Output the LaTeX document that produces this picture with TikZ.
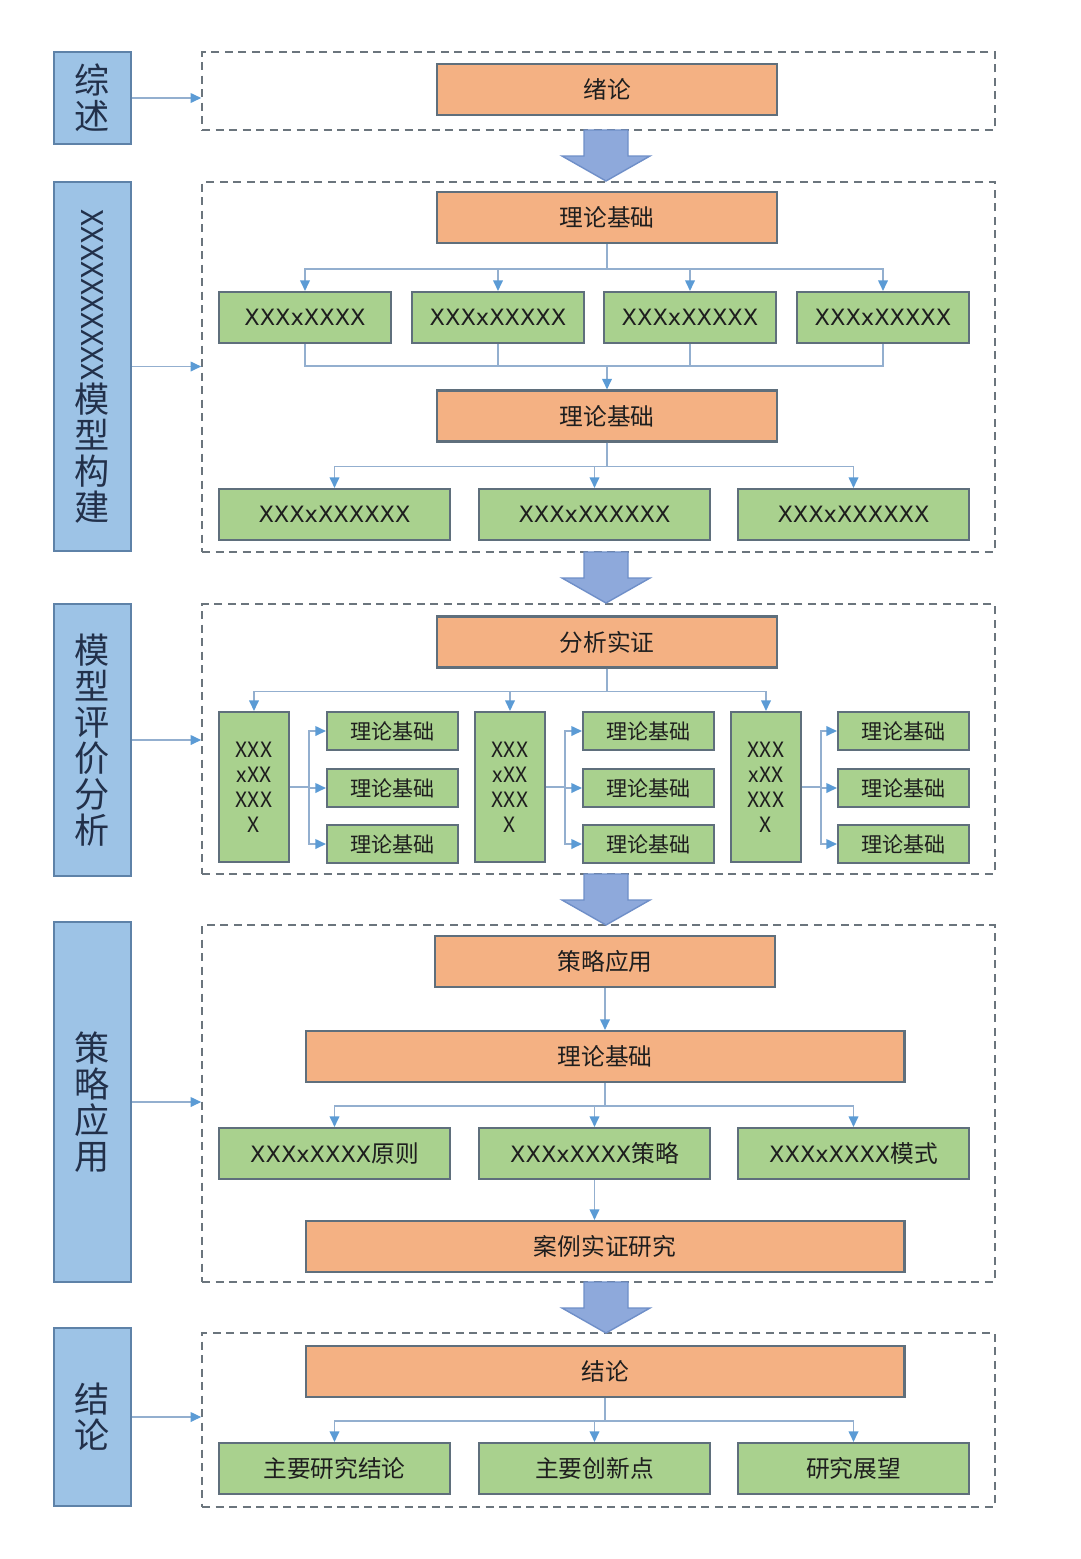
\documentclass[tikz,border=0pt]{standalone}
\usepackage{fontspec}
\usepackage{graphicx}
\setmainfont{Noto Sans CJK SC}
\newfontfamily\latinfont{DejaVu Sans}
\newcommand\xtext[1]{{\latinfont\fontsize{12.8}{16}\selectfont #1}}
\usepackage{tikz}
\usetikzlibrary{arrows.meta,positioning,calc}
\definecolor{sidefill}{HTML}{9DC3E6}
\definecolor{sideline}{HTML}{5E82A8}
\definecolor{orgfill}{HTML}{F4B183}
\definecolor{grnfill}{HTML}{A9D18E}
\definecolor{boxline}{HTML}{5F6F7C}
\definecolor{framegray}{HTML}{6B757D}
\definecolor{linkline}{HTML}{93AFCF}
\definecolor{linktip}{HTML}{5B9BD5}
\definecolor{blkfill}{HTML}{8EA9DB}
\definecolor{blkline}{HTML}{6F8FC8}
\definecolor{inktext}{HTML}{1E1E1E}
\definecolor{sidetext}{HTML}{22304A}
\tikzset{
  sidebox/.style={draw=sideline,fill=sidefill,line width=1.2pt,
                  minimum width=1.54cm,inner sep=0pt,align=center,
                  text=sidetext,font=\fontsize{20}{20.5}\selectfont},
  dashframe/.style={draw=framegray,dash pattern=on 0.16cm off 0.11cm,
                    line width=1pt,minimum width=15.86cm,inner sep=0pt},
  orgbox/.style={draw=boxline,fill=orgfill,line width=1.2pt,
                 minimum width=6.8cm,minimum height=1.02cm,inner sep=0pt,
                 text=inktext,font=\fontsize{13.5}{16}\selectfont},
  grnbox/.style={draw=boxline,fill=grnfill,line width=1.2pt,
                 minimum height=1.02cm,inner sep=0pt,
                 text=inktext,font=\fontsize{13.5}{16}\selectfont},
  tallbox/.style={grnbox,minimum width=1.4cm,minimum height=3cm,
                  align=center,font=\fontsize{12}{14.2}\selectfont},
  smallbox/.style={grnbox,minimum width=2.62cm,minimum height=0.76cm,
                   font=\fontsize{12}{14}\selectfont},
  lnk/.style={draw=linkline,line width=0.8pt},
  arr/.style={lnk,-{Triangle[length=6pt,width=5.5pt,color=linktip]}},
  blkarr/.style={draw=blkline,fill=blkfill,line width=0.8pt,line join=miter}
}

\begin{document}
\begin{tikzpicture}[x=0.02cm,y=-0.02cm]
  \useasboundingbox (0,0) rectangle (1080,1559);
  \node[dashframe,minimum height=1.56cm] (f1) at (598.5,91) {};
  \node[dashframe,minimum height=7.4cm] (f2) at (598.5,367) {};
  \node[dashframe,minimum height=5.4cm] (f3) at (598.5,739) {};
  \node[dashframe,minimum height=7.14cm] (f4) at (598.5,1103.5) {};
  \node[dashframe,minimum height=3.48cm] (f5) at (598.5,1420) {};

  \node[sidebox,minimum height=1.84cm] (l1) at (92.5,98) {综\\述};
  \node[sidebox,minimum height=7.38cm] (l2) at (92.5,366.5)
    {{\fontsize{17}{17}\selectfont\rotatebox{-90}{XXXXXXXXXX}}\\模\\型\\构\\建};
  \node[sidebox,minimum height=5.44cm] (l3) at (92.5,740) {模\\型\\评\\价\\分\\析};
  \node[sidebox,minimum height=7.2cm] (l4) at (92.5,1102) {策\\略\\应\\用};
  \node[sidebox,minimum height=3.56cm] (l5) at (92.5,1417) {结\\论};
  \draw[arr] (l1.east) -- (l1.east -| f1.west);
  \draw[arr] (l2.east) -- (l2.east -| f2.west);
  \draw[arr] (l3.east) -- (l3.east -| f3.west);
  \draw[arr] (l4.east) -- (l4.east -| f4.west);
  \draw[arr] (l5.east) -- (l5.east -| f5.west);

  \node[orgbox] (o1) at (607,89.5) {绪论};

  \node[orgbox] (o2) at (607,217.5) {理论基础};
  \node[grnbox,minimum width=3.44cm] (a1) at (305,317.5) {\xtext{XXXxXXXX}};
  \node[grnbox,minimum width=3.44cm] (a2) at (498,317.5) {\xtext{XXXxXXXXX}};
  \node[grnbox,minimum width=3.44cm] (a3) at (690,317.5) {\xtext{XXXxXXXXX}};
  \node[grnbox,minimum width=3.44cm] (a4) at (883,317.5) {\xtext{XXXxXXXXX}};
  \draw[arr] (o2.south) -- ++(0,25) -| (a1);
  \draw[arr] (o2.south) -- ++(0,25) -| (a2);
  \draw[arr] (o2.south) -- ++(0,25) -| (a3);
  \draw[arr] (o2.south) -- ++(0,25) -| (a4);
  \coordinate (m2) at (607,366);
  \draw[lnk] (a1.south) |- (m2);
  \draw[lnk] (a2.south) |- (m2);
  \draw[lnk] (a3.south) |- (m2);
  \draw[lnk] (a4.south) |- (m2);
  \node[orgbox] (o3) at (607,416) {理论基础};
  \draw[arr] (m2) -- (o3);
  \node[grnbox,minimum width=4.62cm] (b1) at (334.5,514.5) {\xtext{XXXxXXXXXX}};
  \node[grnbox,minimum width=4.62cm] (b2) at (594.5,514.5) {\xtext{XXXxXXXXXX}};
  \node[grnbox,minimum width=4.62cm] (b3) at (853.5,514.5) {\xtext{XXXxXXXXXX}};
  \draw[arr] (o3.south) -- ++(0,24) -| (b1);
  \draw[arr] (o3.south) -- ++(0,24) -| (b2);
  \draw[arr] (o3.south) -- ++(0,24) -| (b3);

  \node[orgbox] (o4) at (607,642) {分析实证};
  \node[tallbox] (x1) at (254,787) {XXX\\xXX\\XXX\\X};
  \node[tallbox] (x2) at (510,787) {XXX\\xXX\\XXX\\X};
  \node[tallbox] (x3) at (766,787) {XXX\\xXX\\XXX\\X};
  \draw[arr] (o4.south) -- ++(0,23) -| (x1);
  \draw[arr] (o4.south) -- ++(0,23) -| (x2);
  \draw[arr] (o4.south) -- ++(0,23) -| (x3);
  \node[smallbox] (s11) at (392.5,731) {理论基础};
  \node[smallbox] (s12) at (392.5,788) {理论基础};
  \node[smallbox] (s13) at (392.5,844) {理论基础};
  \node[smallbox] (s21) at (648.5,731) {理论基础};
  \node[smallbox] (s22) at (648.5,788) {理论基础};
  \node[smallbox] (s23) at (648.5,844) {理论基础};
  \node[smallbox] (s31) at (903.5,731) {理论基础};
  \node[smallbox] (s32) at (903.5,788) {理论基础};
  \node[smallbox] (s33) at (903.5,844) {理论基础};
  \draw[arr] (x1.east) -- ++(19,0) |- (s11);
  \draw[arr] (x1.east) -- ++(19,0) |- (s12);
  \draw[arr] (x1.east) -- ++(19,0) |- (s13);
  \draw[arr] (x2.east) -- ++(19,0) |- (s21);
  \draw[arr] (x2.east) -- ++(19,0) |- (s22);
  \draw[arr] (x2.east) -- ++(19,0) |- (s23);
  \draw[arr] (x3.east) -- ++(19,0) |- (s31);
  \draw[arr] (x3.east) -- ++(19,0) |- (s32);
  \draw[arr] (x3.east) -- ++(19,0) |- (s33);

  \node[orgbox] (o5) at (605,961.5) {策略应用};
  \node[orgbox,minimum width=11.98cm] (o6) at (605,1056.5) {理论基础};
  \draw[arr] (o5) -- (o6);
  \node[grnbox,minimum width=4.62cm] (c1) at (334.5,1153.5) {\xtext{XXXxXXXX}原则};
  \node[grnbox,minimum width=4.62cm] (c2) at (594.5,1153.5) {\xtext{XXXxXXXX}策略};
  \node[grnbox,minimum width=4.62cm] (c3) at (853.5,1153.5) {\xtext{XXXxXXXX}模式};
  \draw[arr] (o6.south) -- ++(0,23) -| (c1);
  \draw[arr] (o6.south) -- ++(0,23) -| (c2);
  \draw[arr] (o6.south) -- ++(0,23) -| (c3);
  \node[orgbox,minimum width=11.98cm] (o7) at (605,1246.5) {案例实证研究};
  \draw[arr] (c2.south) -- (c2.south |- o7.north);

  \node[orgbox,minimum width=11.98cm] (o8) at (605,1371.5) {结论};
  \node[grnbox,minimum width=4.62cm] (d1) at (334.5,1468.5) {主要研究结论};
  \node[grnbox,minimum width=4.62cm] (d2) at (594.5,1468.5) {主要创新点};
  \node[grnbox,minimum width=4.62cm] (d3) at (853.5,1468.5) {研究展望};
  \draw[arr] (o8.south) -- ++(0,23) -| (d1);
  \draw[arr] (o8.south) -- ++(0,23) -| (d2);
  \draw[arr] (o8.south) -- ++(0,23) -| (d3);

  \foreach \y in {130,552,874,1282}
    \draw[blkarr] (606,\y) ++(-22,0) -- ++(44,0) -- ++(0,26) -- ++(22,0)
      -- ++(-44,25) -- ++(-44,-25) -- ++(22,0) -- cycle;
\end{tikzpicture}
\end{document}
